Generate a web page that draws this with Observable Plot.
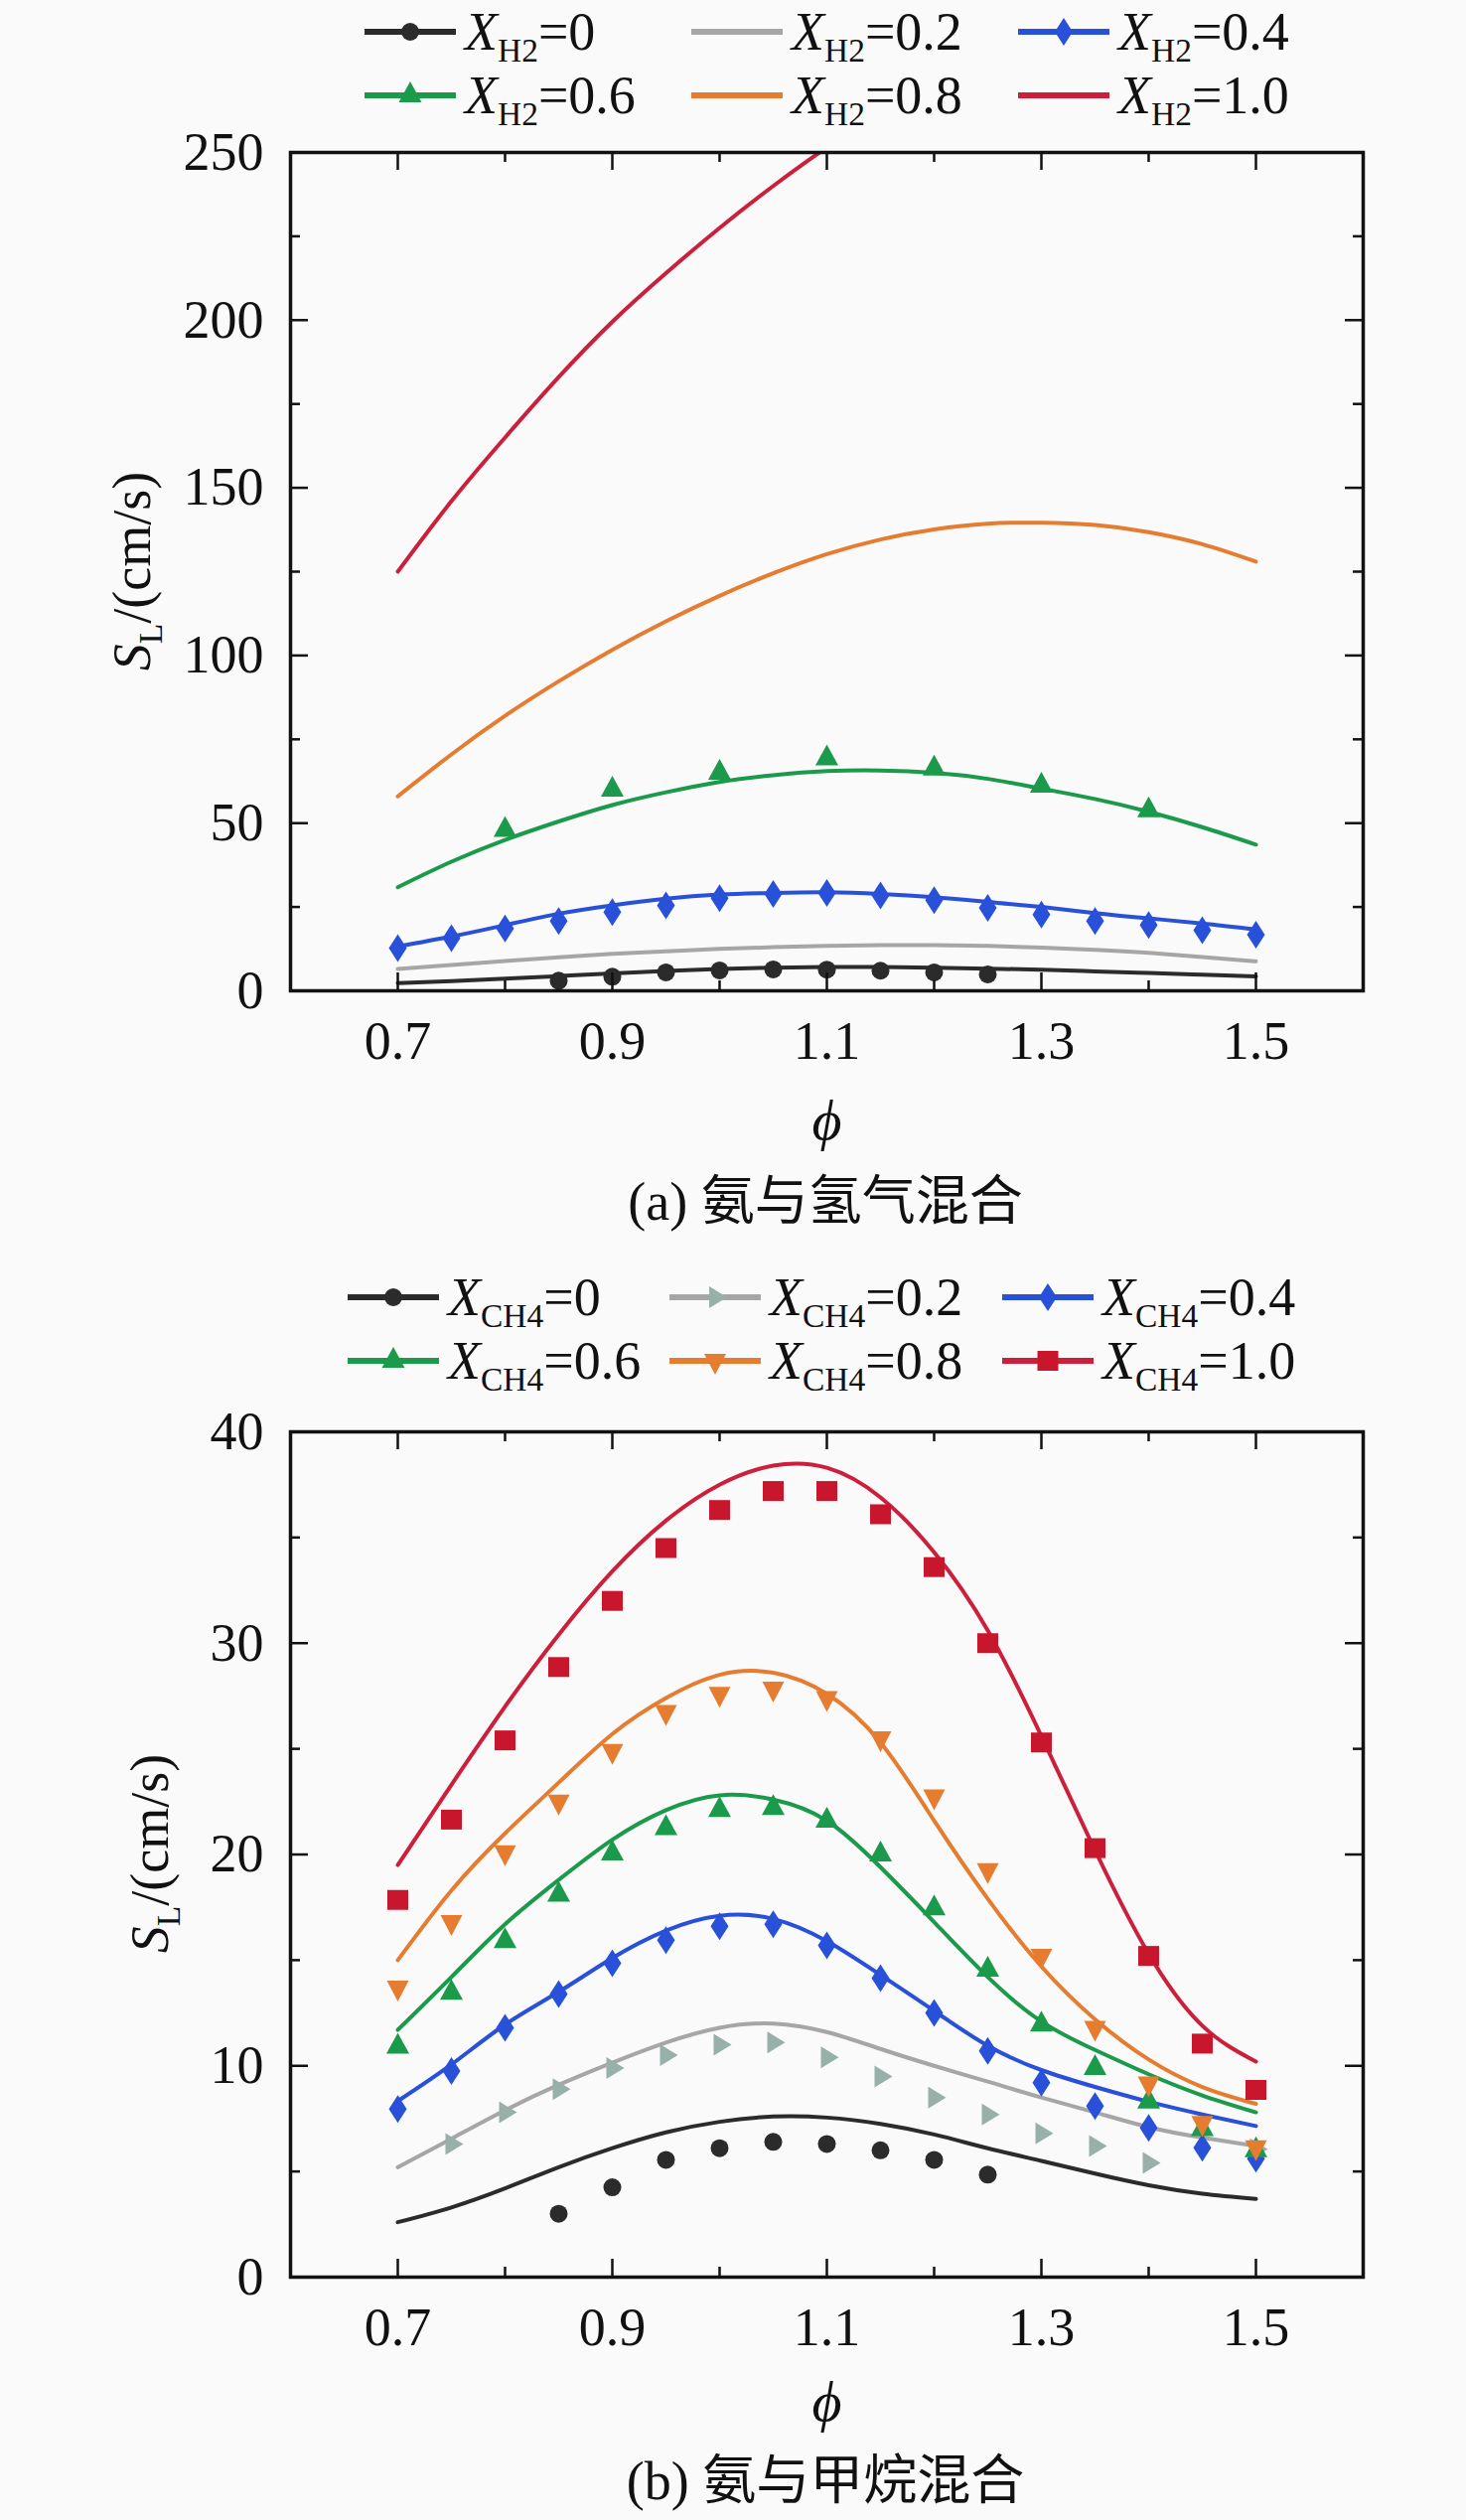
<!DOCTYPE html>
<html><head><meta charset="utf-8">
<script src="https://cdn.jsdelivr.net/npm/d3@7"></script>
<script src="https://cdn.jsdelivr.net/npm/@observablehq/plot@0.6"></script>
<style>
html,body{margin:0;padding:0;background:#fafafa;}
#root{position:relative;width:1476px;height:2537px;background:#fafafa;font-family:"Liberation Serif","Tinos","Times New Roman","DejaVu Serif",serif;color:#111;overflow:hidden;}
.chart{position:absolute;left:0;}
.leg{position:absolute;display:flex;align-items:center;height:60px;font-size:54px;line-height:1;white-space:nowrap;}
.leg svg{display:block;margin-right:9px;}
.sub{font-size:0.62em;position:relative;top:0.36em;}
.cap{position:absolute;font-size:54px;line-height:1.1;transform:translate(-50%,-50%);white-space:nowrap;}
.cjk{font-family:"Noto Sans CJK SC",sans-serif;}
.ylab{position:absolute;font-size:54px;line-height:1;transform:translate(-50%,-50%) rotate(-90deg);white-space:nowrap;}
</style></head><body><div id="root"></div>
<script>
// ---------------- data ----------------
const phi = [0.7,0.75,0.8,0.85,0.9,0.95,1.0,1.05,1.1,1.15,1.2,1.25,1.3,1.35,1.4,1.45,1.5];
const phiRedH2 = [0.7,0.75,0.8,0.85,0.9,0.95,1.0,1.05,1.1,1.15];

// (a) NH3/H2 - simulated lines
const h2Line0  = [2.3,2.9,3.6,4.4,5.2,5.9,6.5,6.9,7.1,7.1,6.9,6.6,6.3,5.8,5.3,4.8,4.3];
const h2Line02 = [6.5,7.7,8.9,10.0,11.0,11.8,12.5,13.0,13.4,13.6,13.6,13.4,12.9,12.2,11.3,10.1,8.8];
const h2Line04 = [13.2,16.2,19.6,23.0,25.5,27.5,28.7,29.2,29.4,28.9,27.9,26.5,25.0,23.2,21.6,20.1,18.3];
const h2Line06 = [30.9,38.5,45.0,50.5,55.4,59.2,62.3,64.3,65.5,65.7,65.0,63.2,60.3,57.2,53.4,48.8,43.6];
const h2Line08 = [58,70.5,82,92.3,101.7,110.2,117.8,124.5,130.2,134.6,137.6,139.3,139.6,138.9,136.8,133.2,128];
const h2Line10 = [125,146,165,183,199.5,214,227.5,240,251.5,262];
// (a) experiments
const h2Pts0Phi = [0.85,0.9,0.95,1.0,1.05,1.1,1.15,1.2,1.25];
const h2Pts0    = [3.0,4.2,5.5,6.1,6.4,6.3,6.0,5.5,4.9];
const h2Pts04   = [12.7,15.7,18.6,20.8,23.5,25.5,27.6,28.9,29.2,28.4,27.0,24.7,22.7,20.8,19.6,18.1,16.7];
const h2Pts06Phi = [0.8,0.9,1.0,1.1,1.2,1.3,1.4];
const h2Pts06    = [48,60,65,69.3,66.3,61.2,53.8];

// (b) NH3/CH4 - simulated lines
const chLine0  = [2.6,3.3,4.2,5.2,6.1,6.85,7.35,7.6,7.55,7.25,6.75,6.1,5.5,4.9,4.35,3.95,3.7];
const chLine02 = [5.2,6.55,7.9,9.1,10.15,11.1,11.8,12.0,11.6,10.8,10.0,9.25,8.5,7.8,7.1,6.6,6.2];
const chLine04 = [8.33,10.06,11.95,13.5,15.1,16.4,17.1,16.95,15.9,14.3,12.6,10.95,9.8,9.0,8.3,7.7,7.15];
const chLine06 = [11.7,14.2,16.7,18.8,20.7,22.1,22.8,22.6,21.6,19.4,16.8,14.2,12.1,10.75,9.6,8.6,7.8];
const chLine08 = [15.0,18.3,21.0,23.4,25.7,27.4,28.5,28.6,27.6,25.3,21.6,17.9,14.7,12.2,10.3,9.0,8.2];
const chLine10 = [19.5,23.3,27.0,30.4,33.4,35.8,37.5,38.4,38.3,36.9,34.3,30.6,25.6,20.2,15.3,11.9,10.2];
// (b) experiments
const chPts0Phi = [0.85,0.9,0.95,1.0,1.05,1.1,1.15,1.2,1.25];
const chPts0    = [3.0,4.25,5.55,6.1,6.4,6.3,6.0,5.55,4.85];
const chPts02Phi = [0.75,0.8,0.85,0.9,0.95,1.0,1.05,1.1,1.15,1.2,1.25,1.3,1.35,1.4,1.5];
const chPts02    = [6.3,7.8,8.9,9.9,10.5,11.0,11.1,10.4,9.5,8.5,7.7,6.8,6.2,5.4,6.05];
const chPts04 = [7.95,9.75,11.8,13.4,14.85,15.95,16.6,16.7,15.7,14.15,12.5,10.7,9.2,8.1,7.06,6.12,5.6];
const chPts06 = [10.9,13.45,15.9,18.1,20.05,21.25,22.1,22.2,21.6,20.0,17.45,14.55,11.95,9.9,8.31,7.0,6.0];
const chPts08 = [13.7,16.8,20.1,22.5,24.9,26.75,27.6,27.85,27.4,25.5,22.75,19.26,15.2,11.8,9.17,7.3,6.15];
const chPts10 = [17.85,21.65,25.4,28.87,32.0,34.5,36.3,37.2,37.2,36.1,33.6,30.0,25.3,20.3,15.2,11.05,8.86];

// ticks and labels
const xMajor = [0.7,0.9,1.1,1.3,1.5];
const xMinor = [0.8,1.0,1.2,1.4];
const yMajorA = [0,50,100,150,200,250];
const yMinorA = [25,75,125,175,225];
const yMajorB = [0,10,20,30,40];
const yMinorB = [5,15,25,35];
const seriesValues = ["0","0.2","0.4","0.6","0.8","1.0"];
const captionA = ["(a) ", "氨与氢气混合"];
const captionB = ["(b) ", "氨与甲烷混合"];

// ---------------- styles ----------------
const FONT = "'Liberation Serif', Tinos, 'Times New Roman', 'DejaVu Serif', serif";
const C = {black:"#2b2b2b", gray:"#a6a6a6", grayMk:"#98b0aa", blue:"#2950d8", green:"#1a9a4a", orange:"#e57c30", red:"#cc1f3c", redMk:"#c8162c"};
function poly(pts){ return {draw(c){ c.moveTo(pts[0][0],pts[0][1]); for (let i=1;i<pts.length;i++) c.lineTo(pts[i][0],pts[i][1]); c.closePath(); }}; }
const SYM = {
  circle: {draw(c){ c.moveTo(9,0); c.arc(0,0,9,0,2*Math.PI); c.closePath(); }},
  diamond: poly([[0,-14],[9,0],[0,14],[-9,0]]),
  triUp: poly([[0,-14],[11.5,7],[-11.5,7]]),
  triDown: poly([[0,14],[11,-7],[-11,-7]]),
  triRight: poly([[12,0],[-6,-11],[-6,11]]),
  square: poly([[-10.5,-10],[10.5,-10],[10.5,10],[-10.5,10]])
};

const zip = (xs, ys) => xs.map((x,i) => ({phi:x, v:ys[i]}));

const W = 1476, ML = 292, MR = 104, MAJ = 18, MIN = 10;

function makePlot({height, mt, mb, yDomain, yMajor, yMinor, lines, pts, phiDy}) {
  const innerH = height - mt - mb, innerW = W - ML - MR;
  const marks = [];
  for (const l of lines) marks.push(Plot.line(l.data, {x:"phi", y:"v", stroke:l.color, strokeWidth:4, curve:"natural", clip:true}));
  for (const p of pts) marks.push(Plot.dot(p.data, {x:"phi", y:"v", symbol:p.symbol, r:9, fill:p.color, stroke:"none"}));
  const tk = {stroke:"#111", strokeWidth:2.5};
  marks.push(
    Plot.ruleX(xMajor, {x:d=>d, insetTop: innerH-MAJ, ...tk}),
    Plot.ruleX(xMinor, {x:d=>d, insetTop: innerH-MIN, ...tk}),
    Plot.ruleX(xMajor, {x:d=>d, insetBottom: innerH-MAJ, ...tk}),
    Plot.ruleX(xMinor, {x:d=>d, insetBottom: innerH-MIN, ...tk}),
    Plot.ruleY(yMajor, {y:d=>d, insetRight: innerW-MAJ, ...tk}),
    Plot.ruleY(yMinor, {y:d=>d, insetRight: innerW-MIN, ...tk}),
    Plot.ruleY(yMajor, {y:d=>d, insetLeft: innerW-MAJ, ...tk}),
    Plot.ruleY(yMinor, {y:d=>d, insetLeft: innerW-MIN, ...tk}),
    Plot.frame({stroke:"#111", strokeWidth:3.5}),
    Plot.axisX({ticks:xMajor, tickSize:0, tickPadding:30, tickFormat:d3.format(".1f"), label:null}),
    Plot.axisY({ticks:yMajor, tickSize:0, tickPadding:27, tickFormat:d3.format("d"), label:null}),
    Plot.text(["ϕ"], {text:d=>d, frameAnchor:"bottom", dy:phiDy, lineAnchor:"middle", fontStyle:"italic", fontSize:58, fill:"#111"})
  );
  return Plot.plot({
    width:W, height, marginLeft:ML, marginRight:MR, marginTop:mt, marginBottom:mb,
    style:{background:"transparent", fontFamily:FONT, fontSize:"54px", color:"#111", overflow:"visible"},
    x:{domain:[0.6,1.6], label:null},
    y:{domain:yDomain, label:null},
    marks
  });
}

const root = document.getElementById("root");

// chart (a)
const plotA = makePlot({
  height:1050, mt:33, mb:173, yDomain:[0,250], yMajor:yMajorA, yMinor:yMinorA, phiDy:131,
  lines:[
    {data:zip(phi,h2Line0), color:C.black},
    {data:zip(phi,h2Line02), color:C.gray},
    {data:zip(phi,h2Line04), color:C.blue},
    {data:zip(phi,h2Line06), color:C.green},
    {data:zip(phi,h2Line08), color:C.orange},
    {data:zip(phiRedH2,h2Line10), color:C.red}
  ],
  pts:[
    {data:zip(h2Pts0Phi,h2Pts0), color:C.black, symbol:SYM.circle},
    {data:zip(phi,h2Pts04), color:C.blue, symbol:SYM.diamond},
    {data:zip(h2Pts06Phi,h2Pts06), color:C.green, symbol:SYM.triUp}
  ]
});
const wrapA = document.createElement("div"); wrapA.className="chart"; wrapA.style.top="120px"; wrapA.appendChild(plotA); root.appendChild(wrapA);

// chart (b)
const plotB = makePlot({
  height:1050, mt:31, mb:168, yDomain:[0,40], yMajor:yMajorB, yMinor:yMinorB, phiDy:126,
  lines:[
    {data:zip(phi,chLine0), color:C.black},
    {data:zip(phi,chLine02), color:C.gray},
    {data:zip(phi,chLine04), color:C.blue},
    {data:zip(phi,chLine06), color:C.green},
    {data:zip(phi,chLine08), color:C.orange},
    {data:zip(phi,chLine10), color:C.red}
  ],
  pts:[
    {data:zip(chPts0Phi,chPts0), color:C.black, symbol:SYM.circle},
    {data:zip(chPts02Phi,chPts02), color:C.grayMk, symbol:SYM.triRight},
    {data:zip(phi,chPts04), color:C.blue, symbol:SYM.diamond},
    {data:zip(phi,chPts06), color:C.green, symbol:SYM.triUp},
    {data:zip(phi,chPts08), color:C.orange, symbol:SYM.triDown},
    {data:zip(phi,chPts10), color:C.redMk, symbol:SYM.square}
  ]
});
const wrapB = document.createElement("div"); wrapB.className="chart"; wrapB.style.top="1410px"; wrapB.appendChild(plotB); root.appendChild(wrapB);

// legends
function symPath(sym){ const p = d3.path(); sym.draw(p); return p.toString(); }
function legendEntry(left, cy, sub, val, lineColor, sym, mkColor){
  const d = document.createElement("div"); d.className="leg"; d.style.left=left+"px"; d.style.top=(cy-30)+"px";
  const mk = sym ? `<path transform="translate(46,20)" d="${symPath(sym)}" fill="${mkColor||lineColor}"/>` : "";
  d.innerHTML = `<svg width="92" height="40"><line x1="0" x2="92" y1="20" y2="20" stroke="${lineColor}" stroke-width="6"/>${mk}</svg>`+
    `<span><i>X</i><span class="sub">${sub}</span>=${val}</span>`;
  root.appendChild(d);
}
const legA = [
  [367,32,C.black,SYM.circle],[696,32,C.gray,null],[1025,32,C.blue,SYM.diamond],
  [367,96,C.green,SYM.triUp],[696,96,C.orange,null],[1025,96,C.red,null]
];
legA.forEach((e,i)=>legendEntry(e[0],e[1],"H2",seriesValues[i],e[2],e[3]));
const legB = [
  [350,1306,C.black,SYM.circle,C.black],[674,1306,C.gray,SYM.triRight,C.grayMk],[1009,1306,C.blue,SYM.diamond,C.blue],
  [350,1370,C.green,SYM.triUp,C.green],[674,1370,C.orange,SYM.triDown,C.orange],[1009,1370,C.red,SYM.square,C.redMk]
];
legB.forEach((e,i)=>legendEntry(e[0],e[1],"CH4",seriesValues[i],e[2],e[3],e[4]));

// y labels
function ylab(x, y){ const d=document.createElement("div"); d.className="ylab"; d.style.left=x+"px"; d.style.top=y+"px";
  d.innerHTML = `<i>S</i><span class="sub">L</span>/(cm/s)`; root.appendChild(d); }
ylab(133, 575);
ylab(151, 1866);

// captions
function cap(parts, x, y){ const d=document.createElement("div"); d.className="cap"; d.style.left=x+"px"; d.style.top=y+"px";
  const a=document.createElement("span"); a.textContent=parts[0]; a.style.whiteSpace="pre";
  const b=document.createElement("span"); b.className="cjk"; b.textContent=parts[1];
  d.appendChild(a); d.appendChild(b); root.appendChild(d); }
cap(captionA, 831, 1208);
cap(captionB, 831, 2496);
</script></body></html>
